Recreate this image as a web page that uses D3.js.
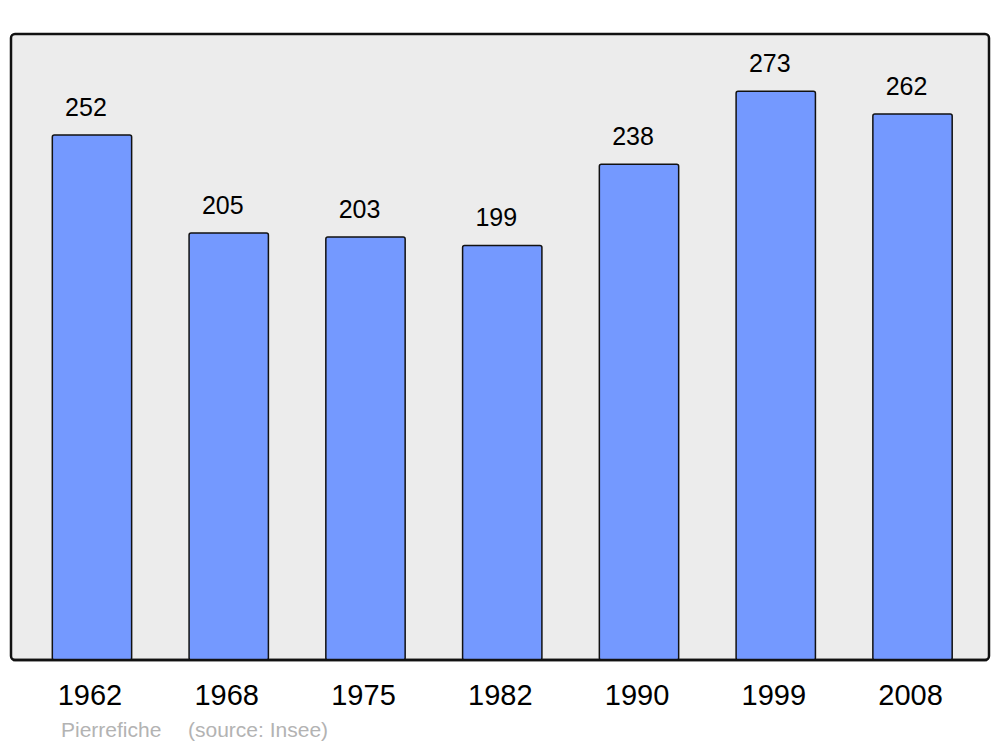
<!DOCTYPE html>
<html>
<head>
<meta charset="utf-8">
<script src="https://cdn.jsdelivr.net/npm/d3@7"></script>
<style>
  body { margin: 0; background: #fff; }
  svg { display: block; font-family: "Liberation Sans", Arial, sans-serif; }
</style>
</head>
<body>
<svg id="chart" width="1000" height="747"></svg>
<script>
// population by census year
var years = ["1962", "1968", "1975", "1982", "1990", "1999", "2008"];
var population = [252, 205, 203, 199, 238, 273, 262];
var footer = ["Pierrefiche", "(source: Insee)"];

var svg = d3.select('#chart');

// panel background
var panel = { left: 11, top: 34, right: 989, bottom: 660 };
svg.append('rect')
    .attr('x', panel.left).attr('y', panel.top)
    .attr('width', panel.right - panel.left)
    .attr('height', panel.bottom - panel.top)
    .attr('rx', 4)
    .style('fill', '#ececec')
    .style('stroke', '#111')
    .style('stroke-width', 2.5);

var x = d3.scaleBand()
    .domain(years)
    .range([23.6, 980.9])
    .paddingInner(0.42)
    .paddingOuter(0.21);

var y = d3.scaleLinear()
    .domain([0, 300])
    .range([panel.bottom, panel.bottom - 300 * 2.0835]);

var data = years.map(function (d, i) { return { year: d, value: population[i] }; });

svg.selectAll('rect.bar').data(data).enter().append('rect')
    .attr('class', 'bar')
    .attr('x', function (d) { return x(d.year); })
    .attr('y', function (d) { return y(d.value); })
    .attr('width', x.bandwidth())
    .attr('height', function (d) { return y(0) - y(d.value); })
    .attr('rx', 2)
    .style('fill', '#7499ff')
    .style('stroke', '#111')
    .style('stroke-width', 1.5);

// redraw bottom border over bar ends
svg.append('line')
    .attr('x1', panel.left + 2).attr('x2', panel.right - 2)
    .attr('y1', panel.bottom).attr('y2', panel.bottom)
    .style('stroke', '#111').style('stroke-width', 2.5);

// value labels
svg.selectAll('text.val').data(data).enter().append('text')
    .attr('class', 'val')
    .attr('x', function (d) { return x(d.year) + x.bandwidth() / 2 - 6; })
    .attr('y', function (d) { return y(d.value) - 19; })
    .attr('text-anchor', 'middle')
    .style('font-size', '25px')
    .text(function (d) { return d.value; });

// year labels
var xAxis = d3.axisBottom(x).tickSize(0).tickPadding(0);
var gx = svg.append('g')
    .attr('transform', 'translate(-2,' + panel.bottom + ')')
    .call(xAxis);
gx.select('.domain').remove();
gx.selectAll('text')
    .attr('dy', null)
    .attr('y', 45)
    .style('font-family', '"Liberation Sans", Arial, sans-serif')
    .style('font-size', '29px')
    .style('fill', '#000');

// source line
svg.append('text')
    .attr('x', 61).attr('y', 737)
    .style('font-size', '21px')
    .style('fill', '#b3b3b3')
    .text(footer[0]);
svg.append('text')
    .attr('x', 188).attr('y', 737)
    .style('font-size', '21px')
    .style('fill', '#b3b3b3')
    .text(footer[1]);
</script>
</body>
</html>
